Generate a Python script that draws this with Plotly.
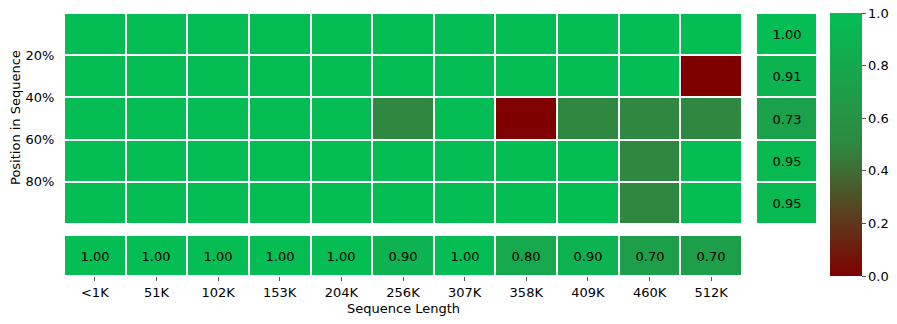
import numpy as np
import plotly.graph_objects as go

# Sequence lengths (columns) and depth buckets (rows)
seq_lengths = ["<1K", "51K", "102K", "153K", "204K", "256K", "307K", "358K", "409K", "460K", "512K"]
depth_labels = ["20%", "40%", "60%", "80%"]

# Retrieval score per depth bucket
row_0 = [1.0, 1.0, 1.0, 1.0, 1.0, 1.0, 1.0, 1.0, 1.0, 1.0, 1.0]
row_1 = [1.0, 1.0, 1.0, 1.0, 1.0, 1.0, 1.0, 1.0, 1.0, 1.0, 0.0]
row_2 = [1.0, 1.0, 1.0, 1.0, 1.0, 0.5, 1.0, 0.0, 0.5, 0.5, 0.5]
row_3 = [1.0, 1.0, 1.0, 1.0, 1.0, 1.0, 1.0, 1.0, 1.0, 0.5, 1.0]
row_4 = [1.0, 1.0, 1.0, 1.0, 1.0, 1.0, 1.0, 1.0, 1.0, 0.5, 1.0]

scores = np.array([row_0, row_1, row_2, row_3, row_4])
col_means = scores.mean(axis=0)
row_means = scores.mean(axis=1)

colorscale = [[0.0, "#800000"], [0.5, "#2e8840"], [1.0, "#04be54"]]
font = dict(family="DejaVu Sans", size=13, color="black")
W, H = 897, 324

fig = go.Figure()

# main grid
fig.add_trace(go.Heatmap(
    z=scores, x=list(range(len(seq_lengths))), y=list(range(5)),
    colorscale=colorscale, zmin=0, zmax=1, xgap=2, ygap=2,
    colorbar=dict(
        x=830 / W, xanchor="left", y=1 - 13 / H, yanchor="top",
        len=263 / H, lenmode="fraction", thickness=32, thicknessmode="pixels",
        outlinewidth=0, tickvals=[0, 0.2, 0.4, 0.6, 0.8, 1.0],
        ticktext=["0.0", "0.2", "0.4", "0.6", "0.8", "1.0"],
        ticks="outside", ticklen=4, tickcolor="#555", tickfont=font,
        xpad=0, ypad=0,
    ),
    xaxis="x", yaxis="y", hoverongaps=False,
))

# column averages
fig.add_trace(go.Heatmap(
    z=[col_means], x=list(range(len(seq_lengths))), y=[0],
    colorscale=colorscale, zmin=0, zmax=1, xgap=2, ygap=2, showscale=False,
    texttemplate="%{z:.2f}", textfont=font, xaxis="x2", yaxis="y2",
))

# row averages
fig.add_trace(go.Heatmap(
    z=[[v] for v in row_means], x=[0], y=list(range(5)),
    colorscale=colorscale, zmin=0, zmax=1, xgap=2, ygap=2, showscale=False,
    texttemplate="%{z:.2f}", textfont=font, xaxis="x3", yaxis="y3",
))

main_x = [64 / W, 742 / W]
main_y = [1 - 224 / H, 1 - 13 / H]

fig.update_layout(
    width=W, height=H, margin=dict(l=0, r=0, t=0, b=0, autoexpand=False),
    paper_bgcolor="white", plot_bgcolor="white", font=font,
    xaxis=dict(domain=main_x, showticklabels=False, showgrid=False, zeroline=False,
               range=[-0.5, 10.5], anchor="y", automargin=False),
    yaxis=dict(domain=main_y, range=[4.5, -0.5], showgrid=False, zeroline=False,
               tickvals=[0.5, 1.5, 2.5, 3.5], ticktext=depth_labels,
               ticks="outside", ticklen=6, tickcolor="white",
               tickfont=font, automargin=False, anchor="x"),
    xaxis2=dict(domain=main_x, range=[-0.5, 10.5], showgrid=False, zeroline=False,
                tickvals=list(range(len(seq_lengths))), ticktext=seq_lengths,
                ticks="outside", ticklen=4, tickcolor="#555", tickfont=font,
                automargin=False, anchor="y2"),
    yaxis2=dict(domain=[1 - 276 / H, 1 - 235 / H], range=[-0.5, 0.5],
                showticklabels=False, showgrid=False, zeroline=False,
                automargin=False, anchor="x2"),
    xaxis3=dict(domain=[756 / W, 817 / W], range=[-0.5, 0.5],
                showticklabels=False, showgrid=False, zeroline=False,
                automargin=False, anchor="y3"),
    yaxis3=dict(domain=main_y, range=[4.5, -0.5], showticklabels=False,
                showgrid=False, zeroline=False, automargin=False, anchor="x3"),
    annotations=[
        dict(text="Position in Sequence", x=15 / W, y=1 - 118 / H, xref="paper",
             yref="paper", textangle=-90, showarrow=False, font=font,
             xanchor="center", yanchor="middle"),
        dict(text="Sequence Length", x=403 / W, y=1 - 308 / H, xref="paper",
             yref="paper", showarrow=False, font=font,
             xanchor="center", yanchor="middle"),
    ],
)

# drop the default page margin so the figure sits at the window's corner
fig.write_html(
    "out.html",
    config={"displayModeBar": False},
    post_script="document.body.style.margin='0';",
)
